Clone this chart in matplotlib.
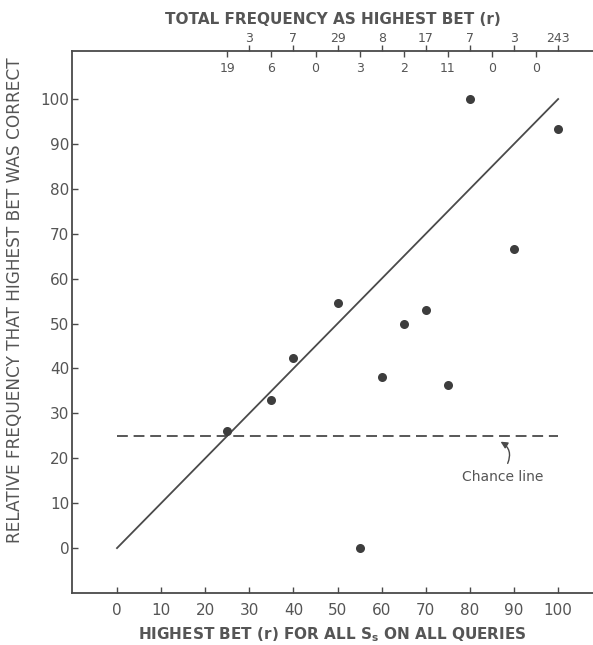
import matplotlib
matplotlib.use("Agg")
import matplotlib.pyplot as plt
from matplotlib.ticker import FixedLocator, FixedFormatter

# ---- data ----
highest_bet = [25, 35, 40, 50, 55, 60, 65, 70, 75, 80, 90, 100]
rel_freq_correct = [26, 33, 42.3, 54.6, 0, 38, 50, 53, 36.3, 100, 66.6, 93.3]

ideal_x = [0, 100]
ideal_y = [0, 100]

chance_level = 25
chance_x = [0, 100]

x_ticks = [0, 10, 20, 30, 40, 50, 60, 70, 80, 90, 100]
y_ticks = [0, 10, 20, 30, 40, 50, 60, 70, 80, 90, 100]

top_upper_pos = [30, 40, 50, 60, 70, 80, 90, 100]
top_upper_lab = ["3", "7", "29", "8", "17", "7", "3", "243"]
top_lower_pos = [25, 35, 45, 55, 65, 75, 85, 95]
top_lower_lab = ["19", "6", "0", "3", "2", "11", "0", "0"]

INK = "#4a4a4a"
TXT = "#555555"

fig = plt.figure(figsize=(5.93, 6.45), dpi=100)
fig.patch.set_facecolor("white")
W, H = 593, 645
ax = fig.add_axes([72 / W, (H - 593) / H, (W - 72) / W, (593 - 51) / H])
AH = 593 - 51

ax.set_xlim(-10.2, 107.9)
ax.set_ylim(-10.0, 110.7)

ax.plot(ideal_x, ideal_y, color=INK, lw=1.3)
ax.plot(chance_x, [chance_level, chance_level], color=INK, lw=1.3,
        dashes=(6, 3.2))
ax.plot(highest_bet, rel_freq_correct, "o", color="#3d3d3d", ms=6.5,
        mec="none")

ax.spines["right"].set_visible(False)
for s in ["left", "bottom", "top"]:
    ax.spines[s].set_color(INK)
    ax.spines[s].set_linewidth(1.3)

ax.set_xticks(x_ticks)
ax.set_yticks(y_ticks)
ax.tick_params(axis="both", direction="in", length=4, width=1.0,
               color=INK, labelcolor=TXT, labelsize=11)
ax.tick_params(axis="x", pad=7)
ax.tick_params(axis="y", pad=2)
ax.tick_params(top=False, right=False)

ax.set_xlabel(r"HIGHEST BET (r) FOR ALL $\mathregular{S_s}$ ON ALL QUERIES",
              fontsize=11, fontweight="bold", color=TXT)
ax.xaxis.set_label_coords(0.5, -(635 - 593) / AH)
ax.xaxis.label.set_va("center")
ax.set_ylabel("RELATIVE FREQUENCY THAT HIGHEST BET WAS CORRECT",
              fontsize=12.2, color=TXT)
ax.yaxis.set_label_coords(-0.092, (593 - 300) / AH)

# top axis
ax2 = ax.twiny()
ax2.set_xlim(ax.get_xlim())
for s in ["left", "right", "bottom", "top"]:
    ax2.spines[s].set_visible(False)
ax2.xaxis.set_major_locator(FixedLocator(top_upper_pos))
ax2.xaxis.set_major_formatter(FixedFormatter(top_upper_lab))
ax2.xaxis.set_minor_locator(FixedLocator(top_lower_pos))
ax2.xaxis.set_minor_formatter(FixedFormatter(top_lower_lab))
ax2.tick_params(axis="x", which="major", direction="out", length=4,
                width=1.0, color=INK, labelcolor=TXT, labelsize=9, pad=0.3)
ax2.tick_params(axis="x", which="minor", direction="in", length=4,
                width=1.0, color=INK, labelcolor=TXT, labelsize=9, pad=-17.5)
ax2.set_xlabel("TOTAL FREQUENCY AS HIGHEST BET (r)", fontsize=11,
               fontweight="bold", color=TXT)
ax2.xaxis.set_label_coords((333 - 72) / (W - 72), 1 + (51 - 19) / AH)
ax2.xaxis.label.set_va("center")

# chance line annotation
ax.annotate("", xy=(86.4, 24.0), xytext=(88.3, 18.3),
            arrowprops=dict(arrowstyle="-|>,head_length=0.4,head_width=0.2",
                            color=INK, lw=1.0,
                            connectionstyle="arc3,rad=0.5"))
ax.text(87.5, 15.8, "Chance line", fontsize=10, color=TXT,
        ha="center", va="center")

fig.savefig("out.png", dpi=100, facecolor="white")
